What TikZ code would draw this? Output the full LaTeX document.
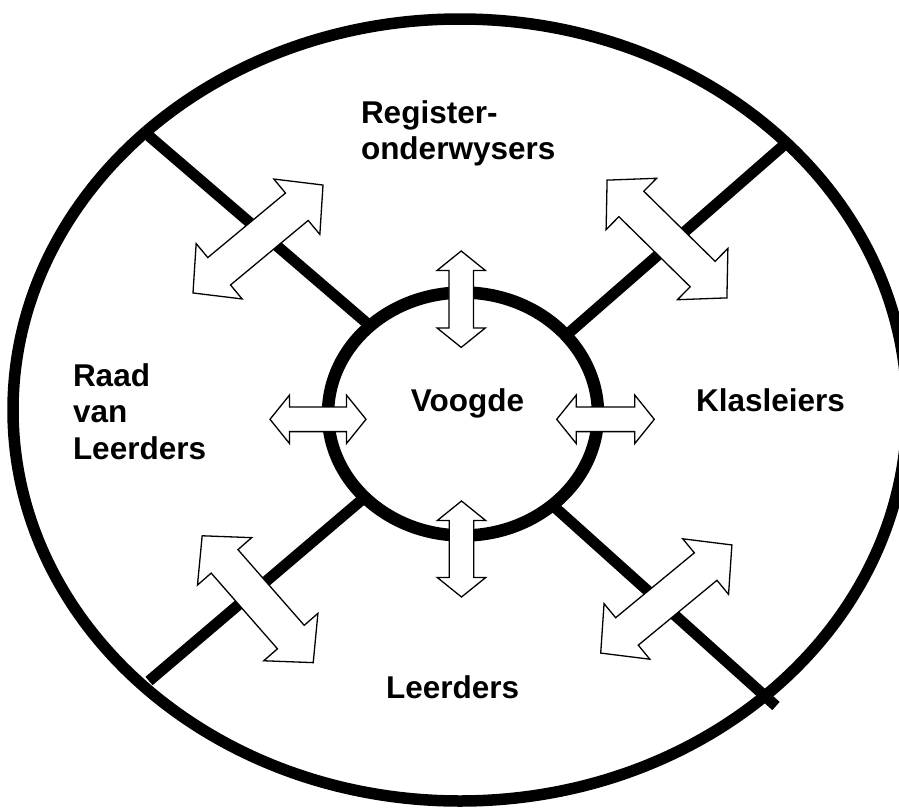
\documentclass[tikz,border=0pt]{standalone}
\usepackage{fontspec}
\setmainfont{Liberation Sans}
\usetikzlibrary{shapes.geometric}
\begin{document}
\begin{tikzpicture}[x=1pt,y=-1pt,
  ring/.style={draw=black, line width=11.5pt},
  innerring/.style={draw=black, fill=white, line width=12.5pt},
  spoke/.style={draw=black, line width=11pt},
  arrowline/.style={draw=black, fill=white, line width=1.3pt, line join=miter},
  lbl/.style={font=\bfseries\fontsize{31.5}{36}\selectfont, inner sep=0pt, outer sep=0pt},
  pics/dblarrow/.style n args={5}{code={
    \draw[arrowline, rotate=#1] (-#2,0) -- (-#2+#3,#5) -- (-#2+#3,#4) -- (#2-#3,#4) -- (#2-#3,#5) -- (#2,0)
      -- (#2-#3,-#5) -- (#2-#3,-#4) -- (-#2+#3,-#4) -- (-#2+#3,-#5) -- cycle;
  }}
]
\useasboundingbox (0,0) rectangle (899,809);
\clip (0,0) rectangle (899,809);

% outer ring
\node[ellipse, ring, minimum width=894pt, minimum height=782pt, inner sep=0pt, outer sep=0pt] (outer) at (460,410) {};

% spokes
\coordinate (oUL) at (149,136);
\coordinate (iUL) at (383,337);
\coordinate (oUR) at (784,145);
\coordinate (iUR) at (555,345);
\coordinate (oLL) at (149,681);
\coordinate (iLL) at (378,486);
\coordinate (oLR) at (776,706);
\coordinate (iLR) at (540,494);
\draw[spoke] (oUL) -- (iUL);
\draw[spoke] (oUR) -- (iUR);
\draw[spoke] (oLL) -- (iLL);
\draw[spoke] (oLR) -- (iLR);

% inner ring
\node[ellipse, innerring, minimum width=270pt, minimum height=243pt, inner sep=0pt, outer sep=0pt] (inner) at (463,414) {};

% diagonal double arrows
\pic (aUL) at (258,239) {dblarrow={39.7}{84.5}{34}{17.8}{36}};
\pic (aUR) at (667,239) {dblarrow={-44.5}{84}{34}{17.8}{36}};
\pic (aLL) at (257.7,599.2) {dblarrow={-48.8}{84.3}{34}{17.8}{36}};
\pic (aLR) at (666.3,599) {dblarrow={39.5}{85}{34}{17.8}{36}};

% small double arrows
\pic (aT) at (461.2,299.2) {dblarrow={90}{48.2}{19.5}{12.3}{24.2}};
\pic (aB) at (461.5,549) {dblarrow={90}{48}{19.5}{12.3}{24.2}};
\pic (aL) at (318,419.3) {dblarrow={0}{48}{19.5}{12.3}{24.2}};
\pic (aR) at (605.5,419.3) {dblarrow={0}{48.8}{19.5}{12.3}{24.2}};

% labels
\node[lbl, anchor=base west] (reg1) at (361,123.3) {Register-};
\node[lbl, anchor=base west] (reg2) at (361,159.8) {onderwysers};
\node[lbl, anchor=base west] (raad1) at (73,386) {Raad};
\node[lbl, anchor=base west] (raad2) at (73,422.5) {van};
\node[lbl, anchor=base west] (raad3) at (73,459) {Leerders};
\node[lbl, anchor=base] (voog) at (467.5,411.7) {Voogde};
\node[lbl, anchor=base west] (klas) at (696,411.7) {Klasleiers};
\node[lbl, anchor=base west] (leer) at (386,698.3) {Leerders};
\end{tikzpicture}
\end{document}
